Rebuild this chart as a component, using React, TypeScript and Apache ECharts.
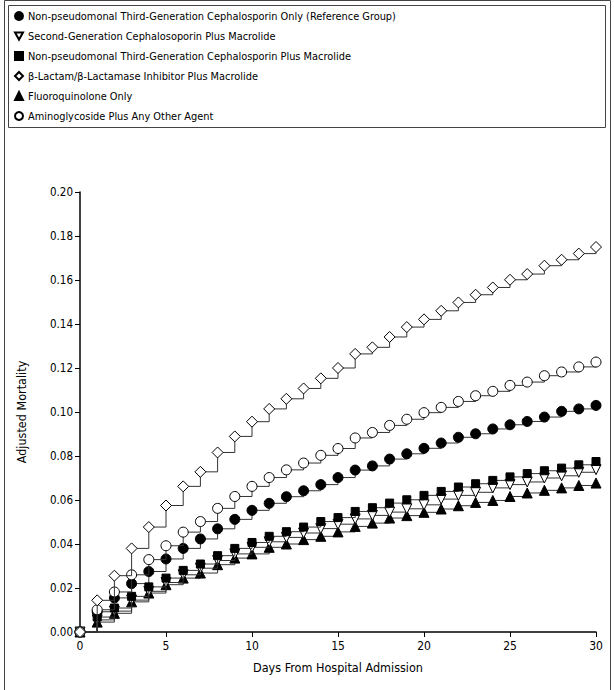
import React, { useEffect, useRef } from "react";
import * as echarts from "echarts";

const days = [0, 1, 2, 3, 4, 5, 6, 7, 8, 9, 10, 11, 12, 13, 14, 15, 16, 17, 18, 19, 20, 21, 22, 23, 24, 25, 26, 27, 28, 29, 30];

const refGroup = [0, 0.0092, 0.0155, 0.022, 0.0275, 0.0332, 0.038, 0.0423, 0.0469, 0.0512, 0.0553, 0.0585, 0.0615, 0.0642, 0.067, 0.0702, 0.0736, 0.0755, 0.0786, 0.081, 0.0835, 0.0859, 0.0885, 0.0901, 0.0923, 0.0942, 0.0957, 0.0977, 0.1003, 0.1014, 0.103];
const secondGenMacrolide = [0, 0.0055, 0.0095, 0.0145, 0.0185, 0.0225, 0.026, 0.029, 0.0325, 0.0355, 0.0385, 0.041, 0.043, 0.045, 0.047, 0.049, 0.0514, 0.053, 0.0545, 0.056, 0.0578, 0.0604, 0.0621, 0.0635, 0.0655, 0.067, 0.0682, 0.07, 0.071, 0.0726, 0.0738];
const thirdGenMacrolide = [0, 0.0068, 0.0109, 0.0162, 0.0205, 0.0245, 0.028, 0.0309, 0.0347, 0.038, 0.0407, 0.0435, 0.0456, 0.0477, 0.0502, 0.052, 0.0548, 0.0565, 0.0586, 0.0601, 0.0621, 0.0639, 0.0659, 0.0674, 0.0689, 0.0705, 0.072, 0.0733, 0.0745, 0.076, 0.0775];
const betaLactamMacrolide = [0, 0.0144, 0.0256, 0.038, 0.0477, 0.0575, 0.0662, 0.0728, 0.0816, 0.0889, 0.0956, 0.1014, 0.106, 0.1107, 0.1153, 0.12, 0.1264, 0.1294, 0.1341, 0.1386, 0.1421, 0.146, 0.1498, 0.1533, 0.1566, 0.1601, 0.1627, 0.1665, 0.1692, 0.172, 0.175];
const fluoroquinolone = [0, 0.0045, 0.0085, 0.0137, 0.0177, 0.0215, 0.0245, 0.0268, 0.0306, 0.0336, 0.0355, 0.0385, 0.04, 0.042, 0.0435, 0.0455, 0.048, 0.0495, 0.0518, 0.0529, 0.0544, 0.0559, 0.0574, 0.0589, 0.0598, 0.0616, 0.0632, 0.0644, 0.0655, 0.0666, 0.0677];
const aminoglycoside = [0, 0.0101, 0.0182, 0.026, 0.0329, 0.0392, 0.0454, 0.0502, 0.0562, 0.0616, 0.0662, 0.0702, 0.0737, 0.0768, 0.0803, 0.0834, 0.0882, 0.0907, 0.0939, 0.0967, 0.0997, 0.1021, 0.1048, 0.1074, 0.1094, 0.1121, 0.1136, 0.1165, 0.1182, 0.1205, 0.1227];

const seriesNames = [
  "Non-pseudomonal Third-Generation Cephalosporin Only (Reference Group)",
  "Second-Generation Cephalosoporin Plus Macrolide",
  "Non-pseudomonal Third-Generation Cephalosporin Plus Macrolide",
  "β-Lactam/β-Lactamase Inhibitor Plus Macrolide",
  "Fluoroquinolone Only",
  "Aminoglycoside Plus Any Other Agent",
];

const xTicks = [0, 5, 10, 15, 20, 25, 30];
const yTicks = [0, 0.02, 0.04, 0.06, 0.08, 0.1, 0.12, 0.14, 0.16, 0.18, 0.2];

const FONT = "'DejaVu Sans Condensed', 'Liberation Sans', Arial, sans-serif";
const INV_TRI = "path://M0,0 L10,0 L5,9 Z";

export default function App() {
  const ref = useRef<HTMLDivElement>(null);
  useEffect(() => {
    document.body.style.margin = "0";
    if (!ref.current) return;
    const chart = echarts.init(ref.current, null, { renderer: "svg" });
    const values = [refGroup, secondGenMacrolide, thirdGenMacrolide, betaLactamMacrolide, fluoroquinolone, aminoglycoside];
    const styles = [
      { symbol: "circle", size: 10, fill: "#000", icon: "circle" },
      { symbol: INV_TRI, size: 10, fill: "#fff", icon: INV_TRI },
      { symbol: "rect", size: 8, fill: "#000", icon: "rect" },
      { symbol: "diamond", size: 11, fill: "#fff", icon: "diamond" },
      { symbol: "triangle", size: 10, fill: "#000", icon: "triangle" },
      { symbol: "circle", size: 10, fill: "#fff", icon: "circle" },
    ];
    const zOrder = [3, 2, 4, 6, 1, 5];
    const series = seriesNames.map((name, i) => ({
      name,
      type: "line",
      step: "end",
      data: days.map((d, j) => [d, values[i][j]]),
      symbol: styles[i].symbol,
      symbolSize: styles[i].size,
      showAllSymbol: true,
      z: zOrder[i],
      lineStyle: { color: "#333", width: 1 },
      itemStyle: { color: styles[i].fill, borderColor: "#000", borderWidth: 1 },
      emphasis: { disabled: true },
    }));
    chart.setOption({
      animation: false,
      backgroundColor: "#fff",
      textStyle: { fontFamily: FONT },
      graphic: [
        { type: "rect", shape: { x: 4.5, y: 0.5, width: 606, height: 700 }, style: { fill: "none", stroke: "#444", lineWidth: 1 }, z: 0 },
        { type: "rect", shape: { x: 8.5, y: 5.5, width: 597, height: 122 }, style: { fill: "#fff", stroke: "#444", lineWidth: 1 }, z: 0 },
      ],
      legend: {
        orient: "vertical",
        left: 14,
        top: 9,
        itemWidth: 8,
        itemHeight: 8,
        itemGap: 6,
        padding: 0,
        selectedMode: false,
        textStyle: { fontFamily: FONT, fontSize: 10.9, lineHeight: 14, color: "#000", padding: [0, 0, 0, 0] },
        data: seriesNames.map((name, i) => ({ name, icon: styles[i].icon })),
      },
      grid: { left: 80, right: 18, top: 192, bottom: 58, containLabel: false },
      xAxis: {
        type: "value",
        min: 0,
        max: 30,
        interval: 5,
        name: "Days From Hospital Admission",
        nameLocation: "middle",
        nameGap: 29,
        nameTextStyle: { fontFamily: FONT, fontSize: 12.5, color: "#000" },
        axisLine: { lineStyle: { color: "#000", width: 1.5 } },
        axisTick: { length: 5, lineStyle: { color: "#000" } },
        axisLabel: { fontFamily: FONT, fontSize: 12, color: "#000", margin: 8, formatter: (v: number) => (xTicks.includes(v) ? String(v) : "") },
        splitLine: { show: false },
      },
      yAxis: {
        type: "value",
        min: 0,
        max: 0.2,
        interval: 0.02,
        name: "Adjusted Mortality",
        nameLocation: "middle",
        nameGap: 52,
        nameTextStyle: { fontFamily: FONT, fontSize: 12.5, color: "#000" },
        axisLine: { show: true, lineStyle: { color: "#000", width: 1.5 } },
        axisTick: { show: true, length: 5, lineStyle: { color: "#000" } },
        axisLabel: { fontFamily: FONT, fontSize: 11.5, color: "#000", margin: 7, formatter: (v: number) => { const t = yTicks.find((y) => Math.abs(y - v) < 1e-9); return t === undefined ? "" : t.toFixed(2); } },
        splitLine: { show: false },
      },
      series,
    });
    return () => chart.dispose();
  }, []);
  return <div ref={ref} style={{ width: 614, height: 690 }} />;
}
